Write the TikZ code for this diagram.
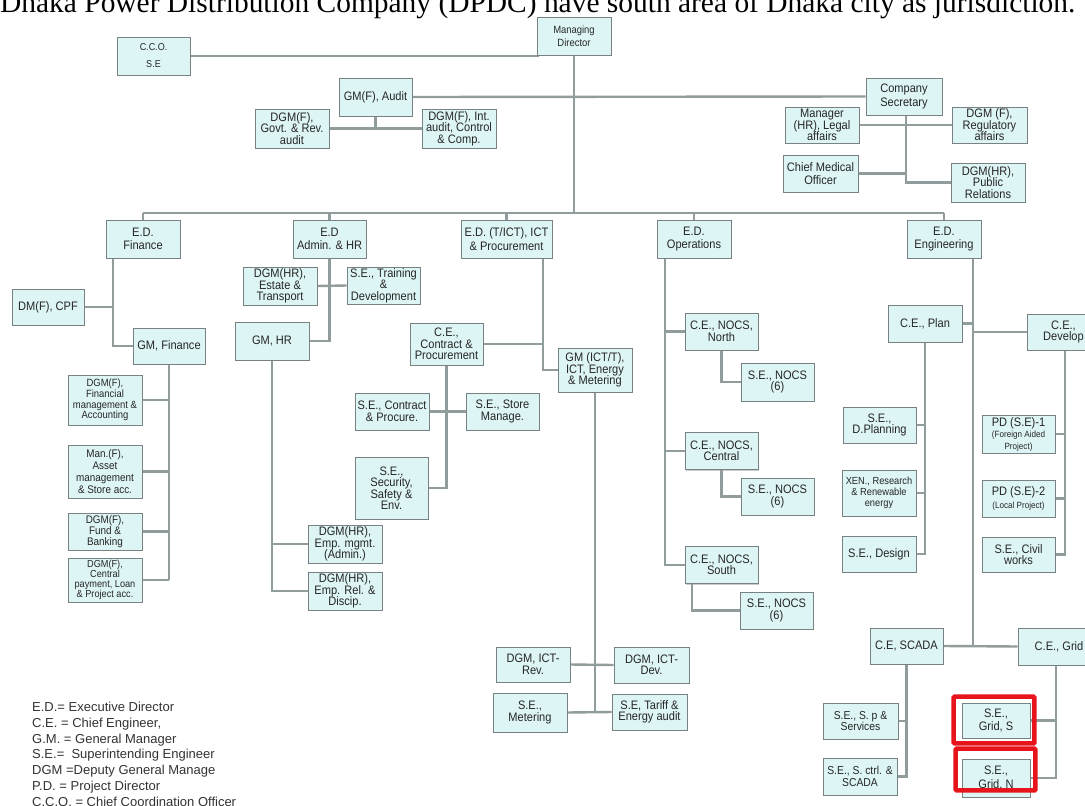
\documentclass[tikz,border=0pt]{standalone}
\usepackage{fontspec}
\usepackage{graphicx}
\usetikzlibrary{shadows,calc}
\newfontfamily\bxf[FakeStretch=0.9]{Liberation Sans}
\newfontfamily\legf{Liberation Sans}
\newfontfamily\ttlf{Liberation Serif}
\newcommand\fsm{\fontsize{9}{9.5}\selectfont}
\definecolor{boxfill}{RGB}{222,245,245}
\definecolor{boxline}{RGB}{120,130,130}
\definecolor{wiregray}{RGB}{145,156,156}
\definecolor{markred}{RGB}{232,20,27}
\pgfdeclarelayer{wires}
\pgfsetlayers{wires,main}
\tikzset{
  box/.style={draw=boxline, line width=0.8, fill=boxfill, align=center,
    inner sep=0pt, text=black!85, font=\bxf\fontsize{12.3}{11.5}\selectfont,
    drop shadow={shadow xshift=1.3pt, shadow yshift=-1.3pt, fill=black!40, opacity=0.5}},
  sz/.style 2 args={minimum width=#1, minimum height=#2},
  two/.style={font=\bxf\fontsize{12.3}{13.5}\selectfont},
  smalltext/.style={font=\bxf\fontsize{10.5}{10.8}\selectfont},
  wire/.style={draw=wiregray, line width=2.4},
  highlight/.style={draw=markred, line width=4.5, rounded corners=1},
  legline/.style={anchor=base west, inner sep=0pt, text=black!80, font=\legf\fontsize{13}{15}\selectfont},
}
\begin{document}
\begin{tikzpicture}[x=1pt,y=-1pt]
\useasboundingbox (0,0) rectangle (1085,806);

% ---- title line ----
\node[anchor=base west, inner sep=0pt] (title) at (0,12)
  {\resizebox{1075pt}{!}{\ttlf Dhaka Power Distribution Company (DPDC) have south area of Dhaka city as jurisdiction.}};

% ---- top management ----
\node[box, sz={74}{38}, font=\bxf\fontsize{10.5}{12.5}\selectfont] (md) at (574,36) {Managing\\Director};
\node[box, sz={73}{38}, font=\bxf\fontsize{10}{17}\selectfont] (cco) at (153.5,56) {C.C.O.\\S.E};
\node[box, sz={73}{38}] (audit) at (375.5,97) {GM(F), Audit};
\node[box, sz={74}{39}] (govt) at (292,128.5) {DGM(F),\\Govt. \& Rev.\\audit};
\node[box, sz={74}{39}] (intaud) at (459,128.5) {DGM(F), Int.\\audit, Control\\\& Comp.};
\node[box, sz={76}{37}, two] (cs) at (904,96.5) {Company\\Secretary};
\node[box, sz={74}{36}] (mgr) at (822,125) {Manager\\(HR), Legal\\affairs};
\node[box, sz={75}{36}] (reg) at (989.5,125) {DGM (F),\\Regulatory\\affairs};
\node[box, sz={75}{37}, two] (cmo) at (820.5,173.5) {Chief Medical\\Officer};
\node[box, sz={74}{39}] (pr) at (988,182.5) {DGM(HR),\\Public\\Relations};

% ---- executive directors ----
\node[box, sz={74}{38}, two] (edfin) at (143,239) {E.D.\\Finance};
\node[box, sz={73}{38}, two] (edadm) at (329.5,239) {E.D\\Admin. \& HR};
\node[box, sz={91}{38}, two] (edict) at (506.5,239) {E.D. (T/ICT), ICT\\\& Procurement};
\node[box, sz={74}{38}, two] (edops) at (694,239) {E.D.\\Operations};
\node[box, sz={74}{38}, two] (edeng) at (944,239) {E.D.\\Engineering};

% ---- finance ----
\node[box, sz={72}{36}] (dmcpf) at (48,307) {DM(F), CPF};
\node[box, sz={72}{36}] (gmfin) at (169,346) {GM, Finance};
\node[box, sz={74}{50}, smalltext] (fa) at (105,400) {DGM(F),\\Financial\\management \&\\Accounting};
\node[box, sz={74}{53}, font=\bxf\fontsize{11}{11.8}\selectfont] (asset) at (105,471.5) {Man.(F),\\Asset\\management\\\& Store acc.};
\node[box, sz={74}{37}, font=\bxf\fontsize{11}{11}\selectfont] (fund) at (105,531.5) {DGM(F),\\Fund \&\\Banking};
\node[box, sz={74}{44}, font=\bxf\fontsize{10.2}{10}\selectfont] (central) at (105,580) {DGM(F),\\Central\\payment, Loan\\\& Project acc.};

% ---- admin and HR ----
\node[box, sz={74}{38}] (estate) at (280,286) {DGM(HR),\\Estate \&\\Transport};
\node[box, sz={73}{37}] (training) at (383.5,285.5) {S.E., Training\\\&\\Development};
\node[box, sz={74}{38}] (gmhr) at (272,341) {GM, HR};
\node[box, sz={74}{38}] (empmgmt) at (345,544) {DGM(HR),\\Emp. mgmt.\\(Admin.)};
\node[box, sz={74}{38}] (emprel) at (345,591) {DGM(HR),\\Emp. Rel. \&\\Discip.};

% ---- ICT and procurement ----
\node[box, sz={73}{42}] (cecon) at (446.5,344) {C.E.,\\Contract \&\\Procurement};
\node[box, sz={74}{44}] (gmict) at (595,370) {GM (ICT/T),\\ICT, Energy\\\& Metering};
\node[box, sz={74}{37}] (secon) at (392,411.5) {S.E., Contract\\\& Procure.};
\node[box, sz={73}{37}] (sestore) at (502.5,411.5) {S.E., Store\\Manage.};
\node[box, sz={73}{62}] (sesec) at (391.5,488) {S.E.,\\Security,\\Safety \&\\Env.};
\node[box, sz={74}{35}] (rev) at (533,664.5) {DGM, ICT-\\Rev.};
\node[box, sz={75}{36}] (dev) at (651.5,665) {DGM, ICT-\\Dev.};
\node[box, sz={74}{39}] (meter) at (530,712.5) {S.E.,\\Metering};
\node[box, sz={75}{36}] (tariff) at (649.5,712) {S.E, Tariff \&\\Energy audit};

% ---- operations ----
\node[box, sz={73}{37}] (cenorth) at (721.5,331.5) {C.E., NOCS,\\North};
\node[box, sz={73}{38}] (se1) at (777.5,382) {S.E., NOCS\\(6)};
\node[box, sz={73}{37}] (cecentral) at (721.5,451) {C.E., NOCS,\\Central};
\node[box, sz={73}{37}] (se2) at (777.5,496.5) {S.E., NOCS\\(6)};
\node[box, sz={73}{37}] (cesouth) at (721.5,565) {C.E., NOCS,\\South};
\node[box, sz={73}{37}] (se3) at (776.5,610.5) {S.E., NOCS\\(6)};

% ---- engineering ----
\node[box, sz={74}{37}] (ceplan) at (925,323.5) {C.E., Plan};
\node[box, sz={73}{36}] (cedev) at (1063.5,332) {C.E.,\\Develop};
\node[box, sz={73}{36}] (dplan) at (879.5,425) {S.E.,\\D.Planning};
\node[box, sz={74}{46}, font=\bxf\fontsize{10.3}{10.8}\selectfont] (xen) at (879,493) {XEN., Research\\\& Renewable\\energy};
\node[box, sz={74}{36}] (design) at (879,554) {S.E., Design};
\node[box, sz={73}{38}] (pd1) at (1018.5,434) {PD (S.E)-1\\{\fsm (Foreign Aided}\\{\fsm Project)}};
\node[box, sz={73}{37}, two] (pd2) at (1018.5,498.5) {PD (S.E)-2\\{\fsm (Local Project)}};
\node[box, sz={73}{35}] (civil) at (1018.5,554.5) {S.E., Civil\\works};
\node[box, sz={73}{36}] (scada) at (906.5,646) {C.E, SCADA};
\node[box, sz={82}{37}] (grid) at (1059,646.5) {C.E., Grid};
\node[box, sz={75}{36}, font=\bxf\fontsize{11.5}{11.5}\selectfont] (sesp) at (860.5,721) {S.E., S. p \&\\Services};
\node[box, sz={74}{37}, font=\bxf\fontsize{11.5}{11.5}\selectfont] (sectrl) at (860,776.5) {S.E., S. ctrl. \&\\SCADA};
\node[box, sz={68}{35}, two] (gridS) at (996,720.5) {S.E.,\\Grid, S};
\node[box, sz={68}{38}, two] (gridN) at (996,778) {S.E.,\\Grid, N};

% ---- marked boxes ----
\draw[highlight] ($(gridS.north west)+(-8,-6)$) rectangle ($(gridS.south east)+(4,5)$);
\draw[highlight] ($(gridN.north west)+(-6,-10)$) rectangle ($(gridN.south east)+(5,-7)$);

% ---- abbreviations ----
\node[legline] (leg1) at (32,711.5) {E.D.= Executive Director};
\node[legline] (leg2) at (32,727.3) {C.E. = Chief Engineer,};
\node[legline] (leg3) at (32,743.1) {G.M. = General Manager};
\node[legline] (leg4) at (32,758.9) {S.E.=\ \ Superintending Engineer};
\node[legline] (leg5) at (32,774.7) {DGM =Deputy General Manage};
\node[legline] (leg6) at (32,790.5) {P.D. = Project Director};
\node[legline] (leg7) at (32,806.3) {C.C.O. = Chief Coordination Officer};

% ---- connectors ----
\begin{pgfonlayer}{wires}
\fill[white] (0,0) rectangle (1085,806);
\coordinate (bus) at (0,213);
\draw[wire] (edfin.north |- bus) -- (edeng.north |- bus);
\foreach \n in {edfin,edadm,edict,edops,edeng} \draw[wire] (\n.north) -- (\n.north |- bus);
\draw[wire] (md.south) -- (md.south |- bus);
\draw[wire] (cco.east) -| ($(md.south west)+(1,0)$);
\draw[wire] (audit.east) -- (cs.west);
\draw[wire] (audit.south) -- (audit.south |- govt.east);
\draw[wire] (govt.east) -- (intaud.west);
\coordinate (csx) at (906,0);
\draw[wire] (csx |- cs.south) |- (pr.west);
\draw[wire] (mgr.east) -- (reg.west);
\draw[wire] (cmo.east) -- (cmo.east -| csx);
% finance
\coordinate (finx) at (113,0);
\draw[wire] (finx |- edfin.south) |- (gmfin.west);
\draw[wire] (dmcpf.east) -- (dmcpf.east -| finx);
\draw[wire] (gmfin.south) -- (gmfin.south |- central.east);
\foreach \n in {fa,asset,fund,central} \draw[wire] (\n.east) -- (\n.east -| gmfin.south);
% admin
\draw[wire] (edadm.south) |- (gmhr.east);
\draw[wire] (estate.east) -- (training.west);
\draw[wire] (gmhr.south) |- (emprel.west);
\draw[wire] (empmgmt.west) -- (empmgmt.west -| gmhr.south);
% ict
\coordinate (ictx) at (543,0);
\draw[wire] (ictx |- edict.south) |- (gmict.west);
\draw[wire] (cecon.east) -- (cecon.east -| ictx);
\draw[wire] (cecon.south) |- (sesec.east);
\draw[wire] (secon.east) -- (sestore.west);
\draw[wire] (gmict.south) -- (gmict.south |- meter.east);
\draw[wire] (rev.east) -- (dev.west);
\draw[wire] (meter.east) -- (tariff.west);
% operations
\coordinate (opsx) at (665,0);
\draw[wire] (opsx |- edops.south) |- (cesouth.west);
\draw[wire] (cenorth.west) -- (cenorth.west -| opsx);
\draw[wire] (cecentral.west) -- (cecentral.west -| opsx);
\draw[wire] (cenorth.south) |- (se1.west);
\draw[wire] (cecentral.south) |- (se2.west);
\coordinate (southx) at (692,0);
\draw[wire] (southx |- cesouth.south) |- (se3.west);
% engineering
\coordinate (engx) at (973,0);
\draw[wire] (engx |- edeng.south) -- (engx |- scada.east);
\draw[wire] (scada.east) -- (grid.west);
\draw[wire] (ceplan.east) -- (ceplan.east -| engx);
\draw[wire] (cedev.west -| engx) -- (cedev.west);
\draw[wire] (ceplan.south) |- (design.east);
\draw[wire] (dplan.east) -- (dplan.east -| ceplan.south);
\draw[wire] (xen.east) -- (xen.east -| ceplan.south);
\coordinate (devx) at (1065,0);
\draw[wire] (devx |- cedev.south) |- (civil.east);
\draw[wire] (pd1.east) -- (pd1.east -| devx);
\draw[wire] (pd2.east) -- (pd2.east -| devx);
\draw[wire] (scada.south) |- (sectrl.east);
\draw[wire] (sesp.east) -- (sesp.east -| scada.south);
\coordinate (gridx) at (1056,0);
\draw[wire] (gridx |- grid.south) |- (gridN.east);
\draw[wire] (gridS.east) -- (gridS.east -| gridx);
\end{pgfonlayer}
\end{tikzpicture}
\end{document}
